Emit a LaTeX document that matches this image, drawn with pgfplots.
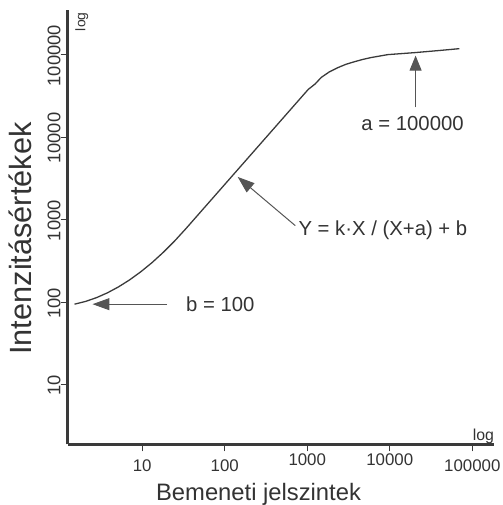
\documentclass[border=0pt]{standalone}
\usepackage{pgfplots}
\pgfplotsset{compat=1.18}
\usepackage{fontspec}
\setmainfont{Liberation Sans}
\usetikzlibrary{arrows.meta}
\definecolor{ink}{HTML}{333333}
\definecolor{axisc}{HTML}{3A3A3A}
\definecolor{arr}{HTML}{555555}
\begin{document}
\begin{tikzpicture}
\begin{axis}[
  at={(0,0)}, anchor=south west,
  scale only axis, width=429bp, height=437bp,
  xmode=log, ymode=log,
  xmin=1.248, xmax=184000, ymin=1.89, ymax=348000,
  axis lines*=left,
  axis line style={line width=3bp, color=axisc},
  xminorticks=false, yminorticks=false,
  tick align=outside,
  major tick length=7bp,
  tick style={line width=1.2bp, color=axisc},
  xtick={10,100,100000}, xticklabels={10,100,100000},
  extra x ticks={1000,10000}, extra x tick labels={1000,10000},
  extra x tick style={xticklabel style={yshift=6bp}},
  ytick={10,100,1000,10000,100000}, yticklabels={10,100,1000,10000,100000},
  xticklabel style={font=\fontsize{17}{20}\selectfont, text=ink, anchor=north, inner sep=0pt, yshift=-8.5bp},
  yticklabel style={font=\fontsize{18.5}{20}\selectfont, text=ink, rotate=90, anchor=south, inner sep=0pt, xshift=-1bp},
  clip=false,
]
\addplot[color=axisc, line width=1.3bp, line join=round] coordinates {
  (1.516,94.6) (2.057,102.1) (2.795,113.5) (3.802,130.0) (5.178,153.5)
  (7.061,186.7) (9.638,234.0) (13.18,302.1) (18.03,402.1) (24.71,551.3)
  (33.89,779.0) (1028,37880) (1248,44120) (1475,52830) (1841,61520)
  (2363,69710) (2951,76400) (3787,82360) (4727,87530) (5904,92030)
  (9461,100000) (20010,105700) (37870,111700) (69710,118100)
};
% annotations
\draw[arr, line width=1bp, -{Triangle[length=17bp, width=12bp]}] (axis cs:20.0,94.6) -- (axis cs:2.5,94.6);
\node[anchor=base west, text=ink, font=\fontsize{20.5}{24}\selectfont, inner sep=0pt] at (axis cs:33.9,78.0) {b = 100};
\draw[arr, line width=1bp, -{Triangle[length=15bp, width=12bp]}] (axis cs:20560,22960) -- (axis cs:20560,97300);
\node[anchor=base, text=ink, font=\fontsize{20.5}{24}\selectfont, inner sep=0pt] at (axis cs:18900,12130) {a = 100000};
\draw[arr, line width=1bp, -{Triangle[length=17bp, width=12bp]}] (axis cs:716,847) -- (axis cs:143.6,3296);
\node[anchor=base west, text=ink, font=\fontsize{20.5}{24}\selectfont, inner sep=0pt] at (axis cs:780,641) {Y = k·X / (X+a) + b};
% log labels
\node[anchor=base east, text=ink, font=\fontsize{16}{18}\selectfont, inner sep=0pt] at (axis cs:184000,2.12) {log};
\node[anchor=base, rotate=90, text=ink, font=\fontsize{14}{16}\selectfont, inner sep=0pt] at (axis cs:2.05,250000) {log};
% axis labels
\node[anchor=base, text=ink, font=\fontsize{24}{28}\selectfont, inner sep=0pt] at (axis cs:257,0.40) {Bemeneti jelszintek};
\node[anchor=base, rotate=90, text=ink, font=\fontsize{31}{34}\selectfont, inner sep=0pt] at (axis cs:0.46,590) {Intenzitásértékek};
\end{axis}
\path[use as bounding box] (-68bp,-57bp) rectangle (437bp,447bp);
\end{tikzpicture}
\end{document}
